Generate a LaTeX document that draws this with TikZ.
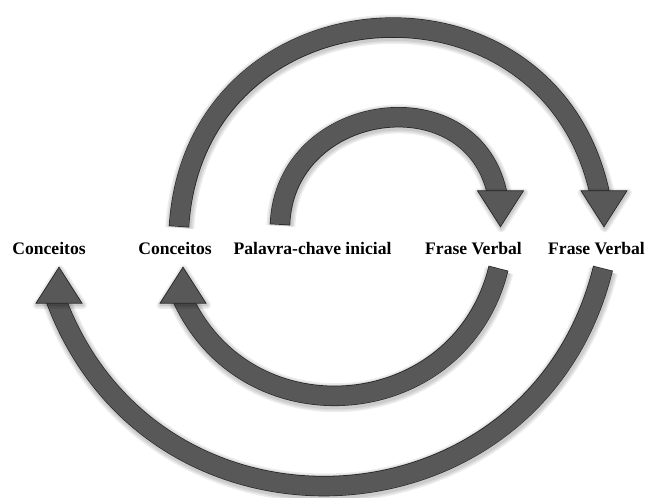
\documentclass[tikz,border=0pt]{standalone}
\usepackage{fontspec}
\setmainfont{Liberation Serif}
\definecolor{bandgray}{HTML}{585858}
\definecolor{edgegray}{HTML}{262626}
\tikzset{
  lbl/.style={font=\fontsize{17.6}{20}\selectfont\bfseries, inner xsep=0pt,
    inner ysep=8pt, text height=20pt, text depth=4pt, anchor=base},
  glow/.style={preaction={draw=black, opacity=0.07, line width=#1, line cap=butt,
    line join=round, transform canvas={shift={(0.8pt,-1.8pt)}}}},
  band/.style={draw=bandgray, line width=19pt, shorten <=0.7pt,
    glow=29pt, glow=26pt, glow=23pt,
    preaction={draw=edgegray, line width=20.4pt, shorten <=0pt}},
  head/.style={fill=bandgray, draw=edgegray, line width=0.7pt,
    glow=8pt, glow=5pt, glow=2pt},
}
\begin{document}
\begin{tikzpicture}[x=1pt, y=1pt]
\useasboundingbox (0,0) rectangle (648,498);
% labels
\node[lbl] (c1)  at (49,243)    {Conceitos};
\node[lbl] (c2)  at (175,243)   {Conceitos};
\node[lbl] (pci) at (312.5,243) {Palavra-chave inicial};
\node[lbl] (fv1) at (473.5,243) {Frase Verbal};
\node[lbl] (fv2) at (596.5,243) {Frase Verbal};
% curved bands
\draw[band] ([xshift=4pt]c2.north) to[out=86.5, in=100.8, looseness=1.51]
  ([xshift=4.5pt, yshift=27pt]fv2.north);
\draw[band] ([xshift=-32.5pt, yshift=2pt]pci.north) to[out=88, in=100, looseness=1.46]
  ([xshift=24.5pt, yshift=29pt]fv1.north);
\draw[band] ([xshift=25pt, yshift=-1pt]fv1.south) to[out=256.2, in=293.5, looseness=1.29]
  ([xshift=6pt, yshift=-28pt]c2.south);
\draw[band] ([xshift=6.5pt, yshift=-1pt]fv2.south) to[out=256.2, in=289.9, looseness=1.32]
  ([xshift=6pt, yshift=-30pt]c1.south);
% heads
\foreach \n/\s/\a/\d in {fv2/7.5/north/36, fv1/27/north/36, c2/8/south/-36, c1/10/south/-36}
  \filldraw[head] ([xshift=\s pt]\n.\a) -- ++(-23,\d) -- ++(46,0) -- cycle;
\end{tikzpicture}
\end{document}
